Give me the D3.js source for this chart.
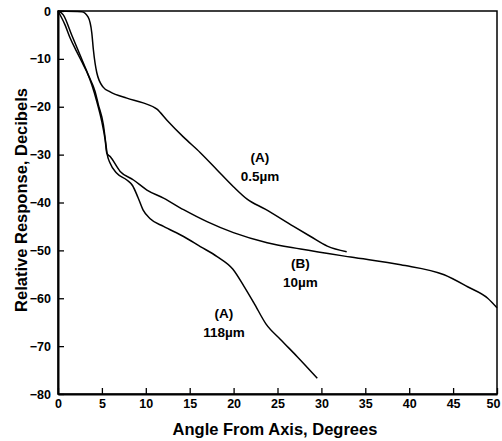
<!DOCTYPE html>
<html>
<head>
<meta charset="utf-8">
<script src="https://cdn.jsdelivr.net/npm/d3@7"></script>
<style>
  body { margin: 0; background: #fff; }
  text { font-family: "Liberation Sans", Arial, sans-serif; font-weight: bold; fill: #000; }
</style>
</head>
<body>
<div id="chart"></div>
<script>
// tick labels
var xTicks = [0, 5, 10, 15, 20, 25, 30, 35, 40, 45, 50];
var yTicks = [0, -10, -20, -30, -40, -50, -60, -70, -80];

// curves: [angle, dB]
var curveA05 = [[0,0],[2.7,-0.15],[3.42,-1.25],[3.85,-4.6],[4.03,-8.1],[4.42,-12.9],[5.14,-15.9],
  [5.94,-16.9],[7.84,-18.2],[9.7,-19.2],[11.27,-20.5],[12.41,-22.8],[14.27,-26.3],[16.21,-29.6],
  [18.12,-33.2],[19.98,-36.7],[21.54,-39.3],[23.6,-41.4],[26.83,-45],[28.77,-47.1],[30.67,-49.1],[32.88,-50.3]];

var curveB10 = [[0,0],[0.8,-2.9],[1.37,-5.6],[2.13,-8.5],[2.71,-10.6],[3.28,-12.7],[3.85,-15.4],
  [4.42,-18.9],[4.99,-23.1],[5.37,-26.9],[5.56,-29.7],[5.94,-30.4],[7.08,-33.5],[8.6,-35.3],
  [10.13,-37.4],[12.02,-39.1],[14.3,-41.5],[16.97,-44],[19.98,-46.3],[23.82,-48.4],[27.63,-49.7],
  [33.33,-51.4],[39.04,-53],[43.98,-55.1],[46.65,-57.6],[48.94,-60],[50,-62]];

var curveA118 = [[0,0],[0.6,-0.8],[1.56,-5],[2.51,-9.2],[3.46,-13.4],[4.22,-16.8],[4.6,-19.6],
  [5.17,-23.8],[5.4,-27],[5.6,-29.9],[5.94,-31.8],[6.7,-33.9],[7.84,-35.3],[8.5,-36.5],[9.1,-38.9],
  [9.7,-41.6],[10.5,-43.4],[12.02,-45],[14.3,-47.1],[16.21,-49.2],[18.12,-51.3],[19.9,-53.9],
  [21.15,-57.4],[22.29,-60.9],[23.7,-65.4],[25.34,-68.6],[27.25,-72.2],[29.53,-76.7]];

// labels next to the curves
var notes = [
  {x: 23, y: -31.6, lines: ["(A)", "0.5\u00b5m"]},
  {x: 27.6, y: -53.6, lines: ["(B)", "10\u00b5m"]},
  {x: 18.9, y: -64.2, lines: ["(A)", "118\u00b5m"]}
];

var margin = {top: 11, right: 5, bottom: 47, left: 58},
    width = 502 - margin.left - margin.right,
    height = 441 - margin.top - margin.bottom;

var svg = d3.select("#chart")
  .append("svg")
  .attr("width", width + margin.left + margin.right)
  .attr("height", height + margin.top + margin.bottom)
  .append("g")
  .attr("transform", "translate(" + margin.left + "," + margin.top + ")");

var x = d3.scaleLinear().domain([0, 50]).range([0, width]);
var y = d3.scaleLinear().domain([-80, 0]).range([height, 0]);

// frame
svg.append("rect")
  .attr("width", width)
  .attr("height", height)
  .attr("fill", "none")
  .attr("stroke", "#000")
  .attr("stroke-width", 1.5);

// X axis, ticks pointing inside
var gx = svg.append("g")
  .attr("transform", "translate(0," + height + ")")
  .call(d3.axisBottom(x).tickValues(xTicks).tickSizeInner(-6).tickSizeOuter(0).tickPadding(5));
gx.select(".domain").attr("stroke-width", 2);
gx.selectAll(".tick line").attr("stroke-width", 1.3);
gx.selectAll("text").style("font-size", "12.5px");
// last label sits against the right edge
gx.selectAll(".tick text").filter(function(d) { return d === 50; }).attr("dx", -4);

// Y axis
var gy = svg.append("g")
  .call(d3.axisLeft(y).tickValues(yTicks).tickSizeInner(-6).tickSizeOuter(0).tickPadding(7));
gy.select(".domain").attr("stroke-width", 2);
gy.selectAll(".tick line").attr("stroke-width", 1.3);
gy.selectAll("text").style("font-size", "12.5px");

// axis titles
svg.append("text")
  .attr("x", 217)
  .attr("y", height + 41)
  .attr("text-anchor", "middle")
  .style("font-size", "16.5px")
  .text("Angle From Axis, Degrees");

svg.append("text")
  .attr("transform", "translate(-31," + 189 + ")rotate(-90)")
  .attr("text-anchor", "middle")
  .style("font-size", "16.5px")
  .text("Relative Response, Decibels");

// curves
var line = d3.line()
  .x(function(d) { return x(d[0]); })
  .y(function(d) { return y(d[1]); })
  .curve(d3.curveMonotoneX);

[curveA05, curveB10, curveA118].forEach(function(c) {
  svg.append("path")
    .datum(c)
    .attr("fill", "none")
    .attr("stroke", "#000")
    .attr("stroke-width", 1.5)
    .attr("d", line);
});

// curve labels
notes.forEach(function(n) {
  var t = svg.append("text")
    .attr("x", x(n.x))
    .attr("y", y(n.y))
    .attr("text-anchor", "middle")
    .style("font-size", "13.5px");
  n.lines.forEach(function(s, i) {
    t.append("tspan").attr("x", x(n.x)).attr("dy", i === 0 ? 0 : 19).text(s);
  });
});
</script>
</body>
</html>
